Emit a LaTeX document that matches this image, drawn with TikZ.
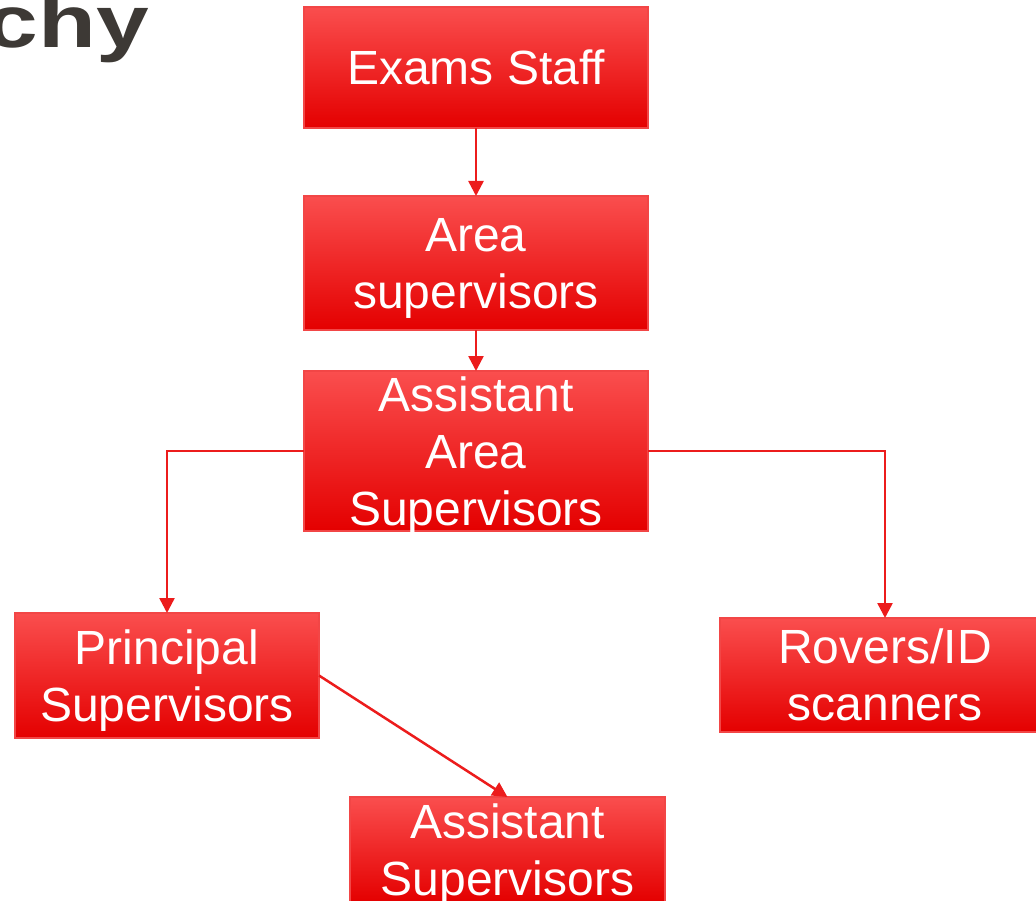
\documentclass[tikz,border=0pt]{standalone}
\usepackage{fontspec}
\setmainfont{Liberation Sans}
\usetikzlibrary{arrows.meta}
\definecolor{boxtop}{RGB}{250,78,78}
\definecolor{boxmid}{RGB}{250,12,12}
\definecolor{boxbot}{RGB}{228,0,0}
\definecolor{boxedge}{RGB}{242,70,70}
\definecolor{connred}{RGB}{236,28,28}
\definecolor{titlegray}{RGB}{61,57,53}
\newcommand{\bs}{\rule[-11.5pt]{0pt}{57pt}}
\begin{document}
\begin{tikzpicture}[x=1pt,y=-1pt,
  orgbox/.style={draw=boxedge, line width=1.2pt, top color=boxtop, middle color=boxmid, bottom color=boxbot,
    text=white, font=\fontsize{48}{57}\selectfont, align=center, inner sep=0pt, outer sep=0pt},
  conn/.style={draw=connred, line width=2.5pt, -{Triangle[width=15pt,length=15pt]}}]
\useasboundingbox (0,0) rectangle (1036,901);
\clip (0,0) rectangle (1036,901);
\node[anchor=base east, text=titlegray, font=\fontsize{74}{84}\selectfont\bfseries, xscale=1.28, inner sep=0pt] (title) at (149,48) {chy};
\node[orgbox, minimum width=344pt, minimum height=121pt] (es) at (476,67.5) {\bs Exams Staff};
\node[orgbox, minimum width=344pt, minimum height=134pt] (ar) at (476,263) {\bs Area\\\bs supervisors};
\node[orgbox, minimum width=344pt, minimum height=160pt, inner ysep=-5.5pt] (aas) at (476,451) {\bs Assistant\\\bs Area\\\bs Supervisors};
\node[orgbox, minimum width=304pt, minimum height=125pt] (ps) at (167,675.5) {\bs Principal\\\bs Supervisors};
\node[orgbox, minimum width=330pt, minimum height=114pt] (rv) at (885,675) {\bs Rovers/ID\\\bs scanners};
\node[orgbox, minimum width=315pt, minimum height=105pt, inner ysep=-4.5pt] (asup) at (507.5,849.5) {\bs Assistant\\\bs Supervisors};
\draw[conn] (es) -- (ar);
\draw[conn] (ar) -- (aas);
\draw[conn] (aas.west) -| (ps.north);
\draw[conn] (aas.east) -| (rv.north);
\draw[conn] (ps.east) -- (asup.north);
\end{tikzpicture}
\end{document}
